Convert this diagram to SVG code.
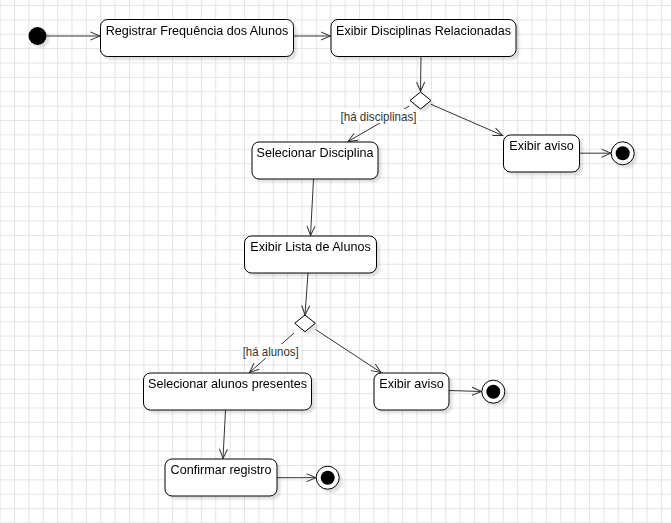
<svg xmlns="http://www.w3.org/2000/svg" width="671" height="523" viewBox="0 0 671 523">
<style>
.node rect{fill:#fff;stroke:#000;stroke-width:1}
.node text{font-family:"Liberation Sans",Arial,sans-serif;font-size:12.6px;fill:#000;text-anchor:middle}
.edge{fill:none;stroke:#333;stroke-width:1;marker-end:url(#arr)}
.lbl{font-family:"Liberation Sans",Arial,sans-serif;font-size:12.2px;fill:#333}
.sh{filter:url(#shadow)}
</style>
<defs>
<pattern id="grid" x="14" y="5" width="14.375" height="14.375" patternUnits="userSpaceOnUse">
<path d="M0.5,0V14.375M0,0.5H14.375" fill="none" stroke="#e4e4e4" stroke-width="1"/>
</pattern>
<marker id="arr" markerUnits="userSpaceOnUse" markerWidth="12" markerHeight="12" viewBox="-11 -6 12 12" refX="0" refY="0" orient="auto">
<path d="M-9.5,-4L0,0L-9.5,4" fill="none" stroke="#333" stroke-width="1"/>
</marker>
<filter id="shadow" x="-20%" y="-20%" width="150%" height="150%">
<feGaussianBlur in="SourceAlpha" stdDeviation="0.8"/>
<feOffset dx="3" dy="3" result="o"/>
<feComponentTransfer><feFuncA type="linear" slope="0.12"/></feComponentTransfer>
<feMerge><feMergeNode/><feMergeNode in="SourceGraphic"/></feMerge>
</filter>
</defs>
<rect width="671" height="523" fill="#fff"/>
<rect width="671" height="523" fill="url(#grid)"/>

<g id="connectors">
<path class="edge" d="M46.5,36H100"/>
<path class="edge" d="M293.5,36H330.5"/>
<path class="edge" d="M421,56.5L420.5,91.5"/>
<path class="edge" d="M409.3,106L348,141.5"/>
<path class="edge" d="M431,104.3L502.7,135.5"/>
<path class="edge" d="M579.5,153.2H611"/>
<path class="edge" d="M313.5,179L310.5,235.5"/>
<path class="edge" d="M308,273L305,315"/>
<path class="edge" d="M294,333L249.5,372.5"/>
<path class="edge" d="M315.5,329.5L381,372.5"/>
<path class="edge" d="M449,390.5L481.5,391.5"/>
<path class="edge" d="M225.5,410L223,458.5"/>
<path class="edge" d="M277,477.7H316"/>
<rect x="339" y="109" width="79" height="14" fill="#fff"/>
<text class="lbl" x="340.5" y="120.5" textLength="76" lengthAdjust="spacingAndGlyphs">[há disciplinas]</text>
<rect x="241" y="344" width="59" height="14" fill="#fff"/>
<text class="lbl" x="242.7" y="355.5" textLength="56" lengthAdjust="spacingAndGlyphs">[há alunos]</text>
</g>

<g id="start" class="sh"><circle cx="37.5" cy="36" r="9" fill="#000"/></g>

<g id="registrar" class="node sh"><rect x="100.5" y="19.5" width="193" height="37" rx="7"/><text x="197" y="34.5">Registrar Frequência dos Alunos</text></g>
<g id="exibir-disciplinas" class="node sh"><rect x="331" y="19.5" width="185" height="37" rx="7"/><text x="423.5" y="34.5">Exibir Disciplinas Relacionadas</text></g>
<g id="decisao1" class="sh"><path d="M410,100.5L420.5,92L431,100.5L420.5,109Z" fill="#fff" stroke="#000"/></g>
<g id="selecionar-disciplina" class="node sh"><rect x="252" y="142" width="126" height="37" rx="7"/><text x="315" y="157">Selecionar Disciplina</text></g>
<g id="aviso1" class="node sh"><rect x="503.5" y="135" width="76" height="37" rx="7"/><text x="541.5" y="150">Exibir aviso</text></g>
<g id="fim1" class="sh"><circle cx="622.7" cy="153.3" r="11.5" fill="#fff" stroke="#000"/><circle cx="622.7" cy="153.3" r="7" fill="#000"/></g>
<g id="lista-alunos" class="node sh"><rect x="244.5" y="236" width="132" height="37" rx="7"/><text x="310.5" y="251">Exibir Lista de Alunos</text></g>
<g id="decisao2" class="sh"><path d="M294.7,323.3L305,315L315.3,323.3L305,331.7Z" fill="#fff" stroke="#000"/></g>
<g id="selecionar-alunos" class="node sh"><rect x="143.5" y="373" width="168" height="37" rx="7"/><text x="227.5" y="388">Selecionar alunos presentes</text></g>
<g id="aviso2" class="node sh"><rect x="374" y="373" width="75" height="37" rx="7"/><text x="411.5" y="388">Exibir aviso</text></g>
<g id="fim2" class="sh"><circle cx="493.3" cy="391.7" r="11.5" fill="#fff" stroke="#000"/><circle cx="493.3" cy="391.7" r="7" fill="#000"/></g>
<g id="confirmar" class="node sh"><rect x="165" y="459" width="112" height="37" rx="7"/><text x="221" y="474">Confirmar registro</text></g>
<g id="fim3" class="sh"><circle cx="327.7" cy="477.7" r="11.5" fill="#fff" stroke="#000"/><circle cx="327.7" cy="477.7" r="7" fill="#000"/></g>
</svg>
